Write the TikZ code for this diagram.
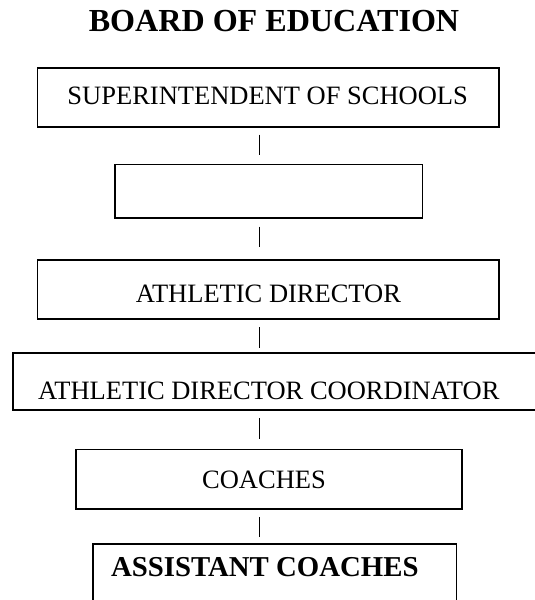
\documentclass[tikz,border=0pt]{standalone}
\usepackage{fontspec}
\setmainfont{Liberation Serif}
\begin{document}
\begin{tikzpicture}[x=1pt,y=-1pt,
  box/.style={draw=black,line width=1.8pt,rectangle,inner sep=0pt},
  conn/.style={draw=black,line width=0.8pt},
  lbl/.style={anchor=base,inner sep=0pt,font=\fontsize{26.5}{30}\selectfont},
  blbl/.style={anchor=base,inner sep=0pt,font=\fontsize{28.8}{32}\selectfont\bfseries},
  ttl/.style={anchor=base,inner sep=0pt,font=\fontsize{32.1}{36}\selectfont\bfseries}]
\clip (0,0) rectangle (535,600);
\fill[white] (0,0) rectangle (535,600);
\coordinate (ax) at (259.4,0);
\node[ttl] (title) at (274,31.7) {BOARD OF EDUCATION};
\node[box,minimum width=461.8pt,minimum height=59.4pt] (b1) at (268.4,97.3) {};
\node[lbl] (t1) at (267.7,104) {SUPERINTENDENT OF SCHOOLS};
\node[box,minimum width=307.8pt,minimum height=53.2pt] (b2) at (268.6,191.1) {};
\node[box,minimum width=461.8pt,minimum height=59.1pt] (b3) at (268.4,289.25) {};
\node[lbl] (t3) at (268.4,302.4) {ATHLETIC DIRECTOR};
\node[box,minimum width=532.3pt,minimum height=57.3pt] (b4) at (278.85,381.35) {};
\node[lbl] (t4) at (268.8,399.7) {ATHLETIC DIRECTOR COORDINATOR};
\node[box,minimum width=386pt,minimum height=59.7pt] (b5) at (268.8,479.35) {};
\node[lbl] (t5) at (264,488) {COACHES};
\node[box,minimum width=363.8pt,minimum height=66pt] (b6) at (274.6,577) {};
\node[blbl] (t6) at (264.8,576.8) {ASSISTANT COACHES};
\draw[conn] ([yshift=-6.8pt]b1.south -| ax) -- ([yshift=8.2pt]b2.north -| ax);
\draw[conn] ([yshift=-7.9pt]b2.south -| ax) -- ([yshift=11.9pt]b3.north -| ax);
\draw[conn] ([yshift=-7.5pt]b3.south -| ax) -- ([yshift=4.2pt]b4.north -| ax);
\draw[conn] ([yshift=-7pt]b4.south -| ax) -- ([yshift=9.5pt]b5.north -| ax);
\draw[conn] ([yshift=-6.8pt]b5.south -| ax) -- ([yshift=5.8pt]b6.north -| ax);
\end{tikzpicture}
\end{document}
